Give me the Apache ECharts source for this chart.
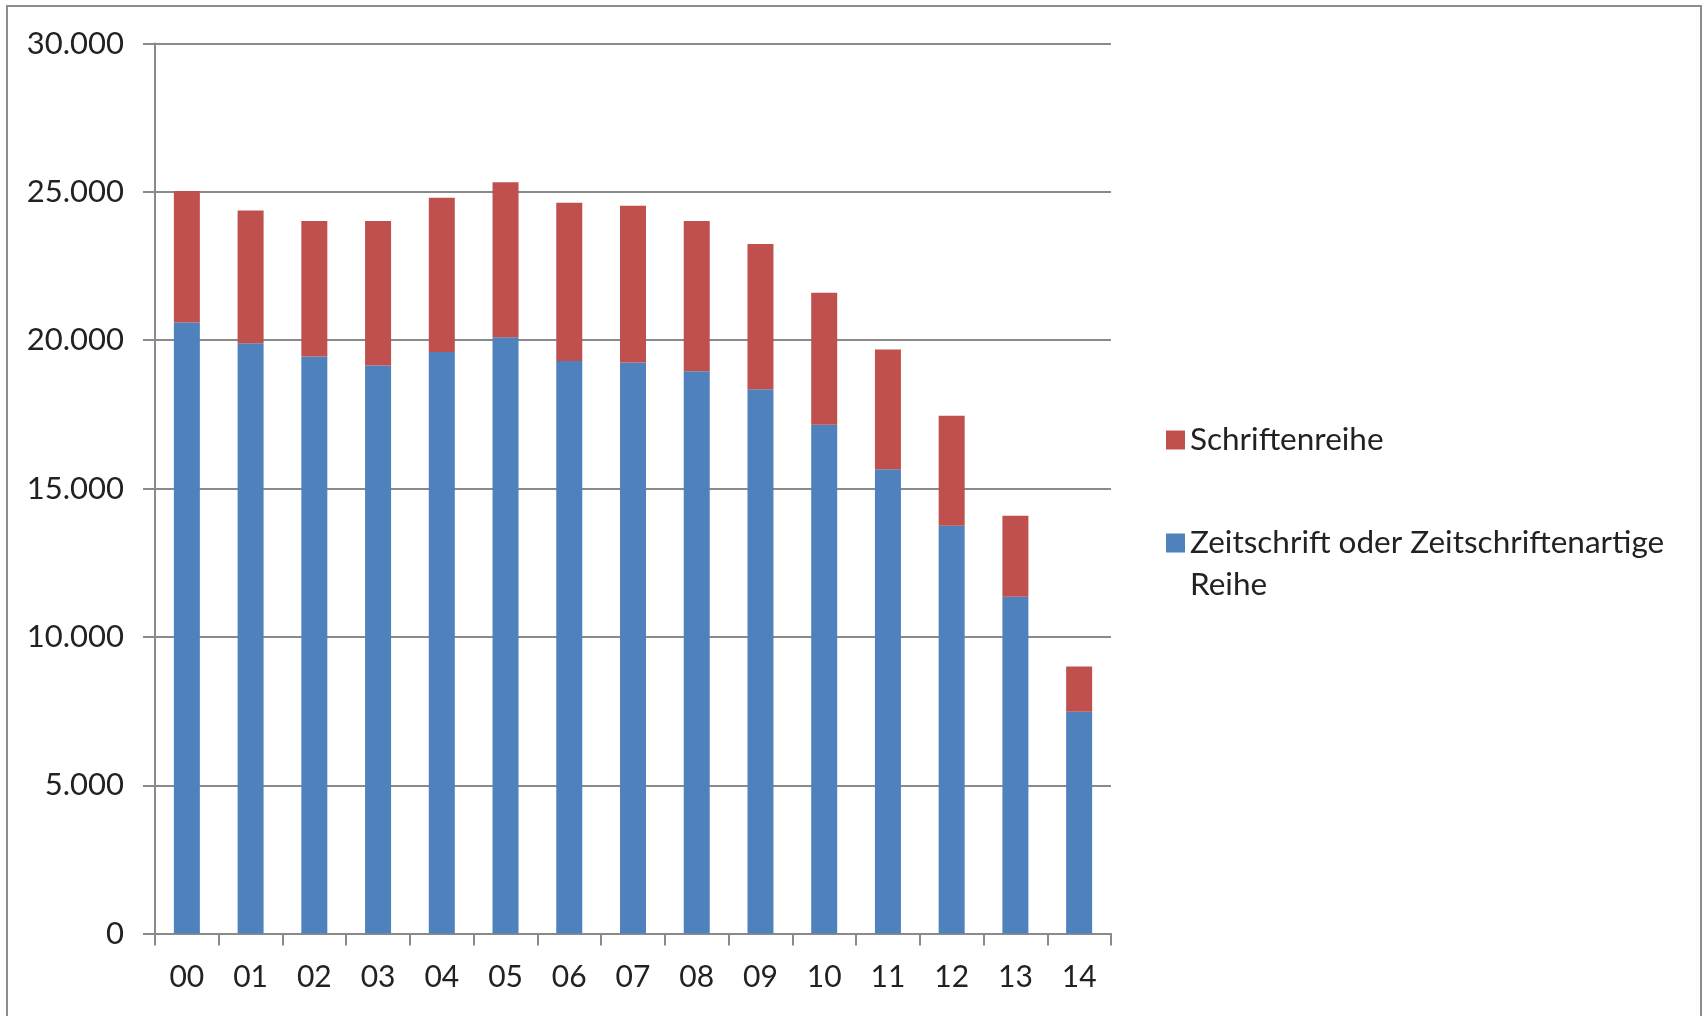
<!DOCTYPE html>
<html>
<head>
<meta charset="utf-8">
<script src="https://cdn.jsdelivr.net/npm/echarts@6/dist/echarts.min.js"></script>
<style>
  html, body { margin: 0; padding: 0; background: #fff; }
  #chart { width: 1704px; height: 1016px; }
</style>
</head>
<body>
<div id="chart"></div>
<script>
// Jahre (Achsenbeschriftung)
var jahre = ['00', '01', '02', '03', '04', '05', '06', '07', '08', '09', '10', '11', '12', '13', '14'];
// Werte
var zeitschrift = [20600, 19900, 19450, 19150, 19600, 20100, 19300, 19250, 18950, 18350, 17150, 15650, 13750, 11350, 7480];
var schriftenreihe = [4430, 4470, 4570, 4870, 5200, 5220, 5330, 5280, 5070, 4890, 4450, 4040, 3700, 2730, 1520];
var yTicks = [0, 5000, 10000, 15000, 20000, 25000, 30000];

var chart = echarts.init(document.getElementById('chart'));

var schrift = 'Lato';
var grau = '#8a8a8a';

var option = {
    animation: false,
    backgroundColor: '#fff',
    textStyle: { fontFamily: schrift },
    graphic: [{
        type: 'rect',
        shape: { x: 7, y: 6, width: 1694, height: 1014 },
        style: { fill: 'none', stroke: '#8c8c8c', lineWidth: 2 },
        silent: true
    }],
    grid: {
        left: 155,
        right: 593,
        top: 43.5,
        bottom: 82.4
    },
    legend: [
        {
            data: ['Schriftenreihe'],
            left: 1166,
            top: 419,
            padding: 0,
            itemWidth: 19,
            itemHeight: 19,
            icon: 'rect',
            textStyle: { fontFamily: schrift, fontSize: 31.5, color: '#222', lineHeight: 42 }
        },
        {
            data: ['Zeitschrift oder Zeitschriftenartige Reihe'],
            left: 1166,
            top: 480,
            padding: 0,
            itemWidth: 19,
            itemHeight: 19,
            icon: 'rect',
            // leere erste Zeile, damit das Symbol neben der ersten Textzeile steht
            formatter: function () {
                return '\nZeitschrift oder Zeitschriftenartige\nReihe';
            },
            textStyle: { fontFamily: schrift, fontSize: 31.5, color: '#222', lineHeight: 42 }
        }
    ],
    xAxis: {
        type: 'category',
        data: jahre,
        axisLine: { lineStyle: { color: grau, width: 2 } },
        axisTick: { show: true, length: 12, lineStyle: { color: grau, width: 2 } },
        axisLabel: { fontFamily: schrift, fontSize: 30, color: '#222', margin: 29 }
    },
    yAxis: {
        type: 'value',
        min: yTicks[0],
        max: yTicks[yTicks.length - 1],
        interval: yTicks[1] - yTicks[0],
        axisLine: { show: true, lineStyle: { color: grau, width: 2 } },
        axisTick: { show: true, length: 12, lineStyle: { color: grau, width: 2 } },
        splitLine: { lineStyle: { color: grau, width: 2 } },
        axisLabel: {
            fontFamily: schrift,
            fontSize: 31,
            color: '#222',
            margin: 31,
            formatter: function (v) {
                return String(v).replace(/\B(?=(\d{3})+(?!\d))/g, '.');
            }
        }
    },
    series: [
        {
            name: 'Zeitschrift oder Zeitschriftenartige Reihe',
            type: 'bar',
            stack: 'gesamt',
            data: zeitschrift,
            barWidth: 26,
            itemStyle: { color: '#4f81bd' }
        },
        {
            name: 'Schriftenreihe',
            type: 'bar',
            stack: 'gesamt',
            data: schriftenreihe,
            barWidth: 26,
            itemStyle: { color: '#c0504d' }
        }
    ]
};

chart.setOption(option);

window.onresize = function () {
    chart.resize();
};
</script>
</body>
</html>
